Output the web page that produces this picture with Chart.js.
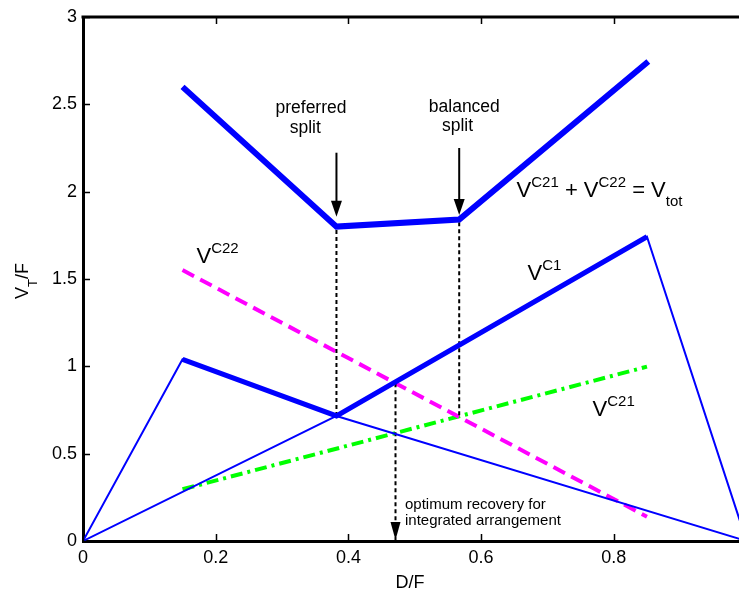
<!DOCTYPE html>
<html>
<head>
<meta charset="utf-8">
<script src="https://cdn.jsdelivr.net/npm/chart.js@4.4.1/dist/chart.umd.min.js"></script>
<style>
  html, body { margin: 0; padding: 0; background: #fff; }
  canvas { display: block; }
</style>
</head>
<body>
<canvas id="chart" width="739" height="591"></canvas>
<script>
// tick values
const xTicks = [0, 0.2, 0.4, 0.6, 0.8];
const yTicks = [0, 0.5, 1, 1.5, 2, 2.5, 3];

// V_tot = V^C21 + V^C22
const totX = [0.15, 0.382, 0.567, 0.852];
const totY = [2.60, 1.80, 1.84, 2.745];

// V^C1 (thin, from origin up to the peak and down to D/F = 1)
const c1X = [0, 0.382, 0.85, 1.0];
const c1Y = [0, 0.716, 1.742, 0];

// second column boilup (thin)
const c2X = [0, 0.15, 0.382, 1.0];
const c2Y = [0, 1.04, 0.716, 0];

// bold envelope over the two
const envX = [0.15, 0.382, 0.85];
const envY = [1.04, 0.716, 1.742];

// V^C22 and V^C21
const c22X = [0.15, 0.85];
const c22Y = [1.551, 0.139];
const c21X = [0.15, 0.85];
const c21Y = [0.296, 0.998];

// dashed marker lines (x, y from, y to)
const prefLine = [0.382, 0.716, 1.80];
const balLine = [0.567, 0.72, 1.838];
const optLine = [0.471, 0.903, 0];

// arrows (x, y start, y tip)
const prefArrow = [0.382, 2.223, 1.857];
const balArrow = [0.567, 2.25, 1.866];

const FONT = '"Liberation Sans", Arial, Helvetica, sans-serif';

function pts(xs, ys) {
    return xs.map((x, i) => ({ x: x, y: ys[i] }));
}

function vline(l) {
    return [{ x: l[0], y: l[1] }, { x: l[0], y: l[2] }];
}

function lineSet(data, color, width, dash) {
    return {
        data: data,
        showLine: true,
        borderColor: color,
        borderWidth: width,
        borderDash: dash || [],
        pointRadius: 0,
        fill: false,
        tension: 0,
    };
}

// text with super/subscripts: parts = [text, size, dy]
function richWidth(ctx, parts) {
    let w = 0;
    parts.forEach(p => {
        ctx.font = p[1] + 'px ' + FONT;
        w += ctx.measureText(p[0]).width;
    });
    return w;
}

function richText(ctx, x, y, parts) {
    ctx.textAlign = 'left';
    ctx.textBaseline = 'alphabetic';
    parts.forEach(p => {
        ctx.font = p[1] + 'px ' + FONT;
        ctx.fillText(p[0], x, y + p[2]);
        x += ctx.measureText(p[0]).width;
    });
}

function arrowHead(ctx, x, tip, w, h) {
    ctx.beginPath();
    ctx.moveTo(x, tip);
    ctx.lineTo(x - w / 2, tip - h);
    ctx.lineTo(x + w / 2, tip - h);
    ctx.closePath();
    ctx.fill();
}

const decorations = {
    id: 'decorations',
    afterDraw(chart) {
        const ctx = chart.ctx;
        const sx = chart.scales.x;
        const sy = chart.scales.y;
        const a = chart.chartArea;
        const X = v => sx.getPixelForValue(v);
        const Y = v => sy.getPixelForValue(v);

        ctx.save();
        ctx.strokeStyle = '#000';
        ctx.fillStyle = '#000';

        // top frame line
        ctx.lineWidth = 3;
        ctx.beginPath();
        ctx.moveTo(a.left - 1.5, a.top);
        ctx.lineTo(a.right, a.top);
        ctx.stroke();

        // inward ticks
        ctx.lineWidth = 1.5;
        ctx.beginPath();
        xTicks.forEach(v => {
            const px = Math.round(X(v)) + 0.5;
            ctx.moveTo(px, a.bottom);
            ctx.lineTo(px, a.bottom - 7);
            ctx.moveTo(px, a.top);
            ctx.lineTo(px, a.top + 7);
        });
        yTicks.forEach(v => {
            const py = Math.round(Y(v)) + 0.5;
            ctx.moveTo(a.left, py);
            ctx.lineTo(a.left + 7, py);
        });
        ctx.stroke();

        // solid arrows
        ctx.lineWidth = 2;
        [prefArrow, balArrow].forEach(ar => {
            const px = X(ar[0]);
            ctx.beginPath();
            ctx.moveTo(px, Y(ar[1]));
            ctx.lineTo(px, Y(ar[2]) - 10);
            ctx.stroke();
            arrowHead(ctx, px, Y(ar[2]), 11, 16);
        });
        // arrow head of the optimum line
        arrowHead(ctx, X(optLine[0]), Y(optLine[2]) - 1, 10, 18);

        // annotations
        ctx.fillStyle = '#000';
        richText(ctx, X(0.6535), Y(1.968), [['V', 22, 0], ['C21', 15, -10], [' + ', 22, 0], ['V', 22, 0], ['C22', 15, -10], [' = ', 22, 0], ['V', 22, 0], ['tot', 15, 9]]);
        richText(ctx, X(0.171), Y(1.592), [['V', 22, 0], ['C22', 15, -10]]);
        richText(ctx, X(0.670), Y(1.494), [['V', 22, 0], ['C1', 15, -10]]);
        richText(ctx, X(0.768), Y(0.716), [['V', 22, 0], ['C21', 15, -10]]);

        ctx.textAlign = 'center';
        ctx.font = '17.5px ' + FONT;
        ctx.fillText('preferred', X(0.3436), Y(2.450));
        ctx.fillText('split', X(0.335), Y(2.336));
        ctx.fillText('balanced', X(0.5747), Y(2.458));
        ctx.fillText('split', X(0.5644), Y(2.349));

        ctx.textAlign = 'left';
        ctx.font = '15px ' + FONT;
        ctx.fillText('optimum recovery for', X(0.4853), Y(0.183));
        ctx.fillText('integrated arrangement', X(0.4853), Y(0.0916));

        // axis titles
        ctx.textAlign = 'center';
        ctx.font = '18px ' + FONT;
        ctx.fillText('D/F', 410, 588);

        const yl = [['V', 18, 0], ['T', 13, 9], ['/F', 18, 0]];
        ctx.save();
        ctx.translate(28, 281);
        ctx.rotate(-Math.PI / 2);
        richText(ctx, -richWidth(ctx, yl) / 2, 0, yl);
        ctx.restore();

        ctx.restore();
    }
};

Chart.defaults.font.family = FONT;
Chart.defaults.color = '#000';

new Chart(document.getElementById('chart'), {
    type: 'scatter',
    data: {
        datasets: [
            lineSet(pts(c2X, c2Y), '#0000ff', 2),
            lineSet(pts(c1X, c1Y), '#0000ff', 2),
            lineSet(pts(envX, envY), '#0000ff', 5),
            lineSet(pts(totX, totY), '#0000ff', 6),
            lineSet(vline(prefLine), '#000', 2, [4, 3]),
            lineSet(vline(balLine), '#000', 2, [4, 3]),
            lineSet(vline(optLine), '#000', 2, [4, 3]),
            lineSet(pts(c22X, c22Y), '#ff00ff', 4, [13, 7]),
            lineSet(pts(c21X, c21Y), '#00ff00', 4, [12, 5, 3, 5]),
        ],
    },
    options: {
        responsive: false,
        animation: false,
        events: [],
        layout: { padding: { top: 17, right: 0, left: 0, bottom: 0 } },
        plugins: {
            legend: { display: false },
            tooltip: { enabled: false },
        },
        scales: {
            x: {
                type: 'linear',
                min: 0,
                max: 0.9887,
                grid: { display: false, drawTicks: false },
                border: { display: true, color: '#000', width: 3 },
                ticks: { font: { size: 18 }, padding: 6, maxRotation: 0, callback: v => String(v) },
                afterBuildTicks: s => { s.ticks = xTicks.map(v => ({ value: v })); },
                afterFit: s => { s.height = 50; },
            },
            y: {
                type: 'linear',
                min: 0,
                max: 3,
                grid: { display: false, drawTicks: false },
                border: { display: true, color: '#000', width: 3 },
                ticks: { font: { size: 18 }, padding: 6, callback: v => String(v) },
                afterBuildTicks: s => { s.ticks = yTicks.map(v => ({ value: v })); },
                afterFit: s => { s.width = 83; },
            },
        },
    },
    plugins: [decorations],
});
</script>
</body>
</html>
